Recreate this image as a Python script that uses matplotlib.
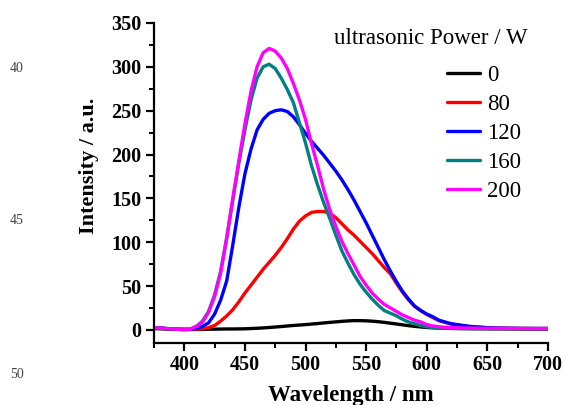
import numpy as np
import matplotlib
matplotlib.use("Agg")
import matplotlib.pyplot as plt
from matplotlib.ticker import MultipleLocator

plt.rcParams['font.family'] = ['Liberation Serif', 'DejaVu Serif']

wavelength = list(range(375, 705, 5))

power_labels = ["0", "80", "120", "160", "200"]
colors = ["#000000", "#ff0000", "#0000ff", "#008080", "#ff00ff"]

i_0 = [1.5, 1.2, 1.0, 0.8, 0.6, 0.5, 0.5, 0.5, 0.6, 0.7, 0.8, 0.9, 1.0, 1.0, 1.1,
       1.2, 1.5, 1.8, 2.2, 2.7, 3.2, 3.8, 4.4, 5.0, 5.5, 6.0, 6.6, 7.2, 7.9, 8.5,
       9.1, 9.7, 10.2, 10.5, 10.5, 10.3, 9.9, 9.3, 8.5, 7.6, 6.7, 5.7, 4.8, 4.0, 3.3,
       2.7, 2.3, 2.0, 1.8, 1.6, 1.5, 1.4, 1.3, 1.3, 1.2, 1.2, 1.1, 1.1, 1.1, 1.0,
       1.0, 1.0, 1.0, 1.0, 1.0, 1.0]
i_80 = [2.5, 2.0, 1.5, 1.0, 0.6, 0.4, 0.4, 0.6, 1.2, 2.5, 5, 10, 16, 23, 32,
        42, 51, 60, 69, 77, 85, 94, 104, 115, 124, 130, 134, 135, 135, 133,
        128, 121, 114, 108, 101, 94, 87, 79, 71, 64, 53, 43, 34, 27, 22,
        17.5, 14, 10.5, 8.5, 6.8, 5.6, 4.6, 3.8, 3.2, 2.8, 2.4, 2.1, 1.9, 1.8, 1.7,
        1.6, 1.6, 1.5, 1.5, 1.5, 1.5]
i_120 = [2.5, 2.0, 1.5, 1.0, 0.6, 0.4, 0.5, 1.5, 4, 8, 18, 34, 56, 97, 140,
         178, 206, 228, 240, 247, 250, 251, 249, 243, 234, 224, 215, 207, 199, 190,
         181, 171, 160, 148, 135, 122, 108, 94, 80, 67, 55, 44, 35, 27, 22,
         18, 15, 11, 9, 7, 6, 5, 4, 3.5, 3, 2.5, 2.2, 2.0, 1.9, 1.8,
         1.7, 1.6, 1.6, 1.5, 1.5, 1.5]
i_160 = [2.5, 2.0, 1.5, 1.0, 0.6, 0.4, 0.8, 4, 10, 21, 40, 67, 105, 148, 190,
         228, 262, 287, 300, 303, 298, 287, 274, 259, 236, 213, 187, 165, 145, 127,
         108, 90, 76, 63, 52, 43, 35, 28, 22, 19, 16, 12, 9, 7, 5,
         3.5, 2.5, 2.0, 1.8, 1.7, 1.6, 1.6, 1.5, 1.5, 1.5, 1.5, 1.5, 1.5, 1.5, 1.5,
         1.5, 1.5, 1.5, 1.5, 1.5, 1.5]
i_200 = [2.5, 2.0, 1.5, 1.0, 0.6, 0.4, 1.0, 4, 9, 20, 38, 65, 105, 150, 193,
         235, 272, 300, 316, 321, 318, 310, 298, 281, 262, 240, 212, 187, 160, 137,
         118, 101, 87, 74, 61, 51, 42, 35, 29, 25, 21, 17, 14, 11, 9,
         6, 4.5, 3.5, 3.0, 2.6, 2.3, 2.1, 2.0, 1.9, 1.8, 1.7, 1.7, 1.6, 1.6, 1.6,
         1.5, 1.5, 1.5, 1.5, 1.5, 1.5]
series = [i_0, i_80, i_120, i_160, i_200]

fig = plt.figure(figsize=(5.65, 4.05), dpi=100)
ax = fig.add_axes([154/565, 62/405, (548-154)/565, 320/405])

for vals, lab, c in zip(series, power_labels, colors):
    ax.plot(wavelength, vals, color=c, lw=2.4, label=lab,
            solid_capstyle='round', solid_joinstyle='round')

ax.set_xlim(375, 700)
ax.set_ylim(-15, 350)
ax.xaxis.set_major_locator(MultipleLocator(50))
ax.xaxis.set_minor_locator(MultipleLocator(25))
ax.yaxis.set_major_locator(MultipleLocator(50))
ax.yaxis.set_minor_locator(MultipleLocator(25))
for s in ['top', 'right']:
    ax.spines[s].set_visible(False)
for s in ['left', 'bottom']:
    ax.spines[s].set_linewidth(1.6)
ax.tick_params(which='major', direction='out', length=6, width=1.6, labelsize=14.5, pad=3)
ax.tick_params(which='minor', direction='out', length=3.5, width=1.4)
for lbl in ax.get_xticklabels() + ax.get_yticklabels():
    lbl.set_fontweight('bold')

ax.set_xlabel("Wavelength / nm", fontsize=16.5, fontweight='bold', labelpad=7)
ax.set_ylabel("Intensity / a.u.", fontsize=16, fontweight='bold', labelpad=6)
ax.yaxis.set_label_coords(-0.14, 0.553)

fig.text(431/565, 1-38/405, "ultrasonic Power / W", fontsize=16.5, ha='center', va='center')
leg = ax.legend(loc='upper left', bbox_to_anchor=(447/565, 1-65/405), bbox_transform=fig.transFigure,
                frameon=False, fontsize=16.5, handlelength=1.45, handletextpad=0.3,
                labelspacing=0.35, borderpad=0, borderaxespad=0)

for y, t in [(69, "40"), (220, "45"), (375, "50")]:
    fig.text(17/565, 1-y/405, t, fontsize=10, color='#444444', ha='center', va='center')

fig.savefig("out.png", dpi=100)
